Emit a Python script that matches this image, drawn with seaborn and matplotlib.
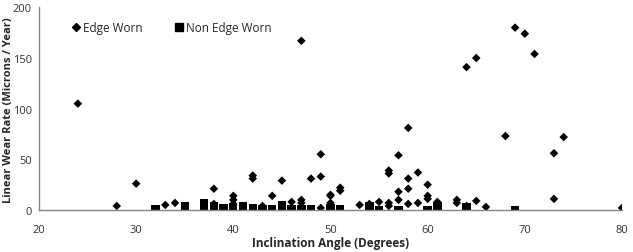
import numpy as np
import pandas as pd
import matplotlib
matplotlib.use("Agg")
import matplotlib.pyplot as plt
import seaborn as sns
from matplotlib.lines import Line2D

# Edge Worn (diamonds)
edge_x = [24, 28, 30, 33, 34, 38, 38, 40, 40, 40, 42, 42, 43, 44, 45, 46,
          47, 47, 47, 48, 49, 49, 49, 50, 50, 50, 50, 51, 51, 53, 54, 55,
          56, 56, 56, 56, 57, 57, 57, 58, 58, 58, 58, 59, 59, 60, 60, 60,
          61, 63, 63, 64, 64, 65, 65, 66, 68, 69, 70, 71, 73, 73, 74, 80]
edge_y = [105, 4, 26, 5, 7, 21, 6, 14, 10, 6, 34, 31, 4, 14, 29, 8,
          167, 10, 7, 31, 55, 33, 2, 15, 14, 7, 4, 22, 19, 5, 6, 8,
          39, 36, 7, 4, 54, 18, 10, 81, 31, 21, 6, 37, 7, 25, 14, 11,
          8, 10, 7, 141, 4, 150, 9, 3, 73, 180, 174, 154, 56, 11, 72, 2]

# Non Edge Worn (squares)
non_x = [32, 35, 35, 37, 37, 37, 38, 38, 39, 40, 40, 41, 41, 42, 43, 44,
         45, 45, 46, 47, 48, 50, 51, 54, 54, 55, 57, 60, 61, 61, 64, 64, 69]
non_y = [1, 1, 4, 1, 4, 7, 1, 4, 2, 1, 3, 1, 4, 2, 1, 1,
         1, 5, 1, 1, 1, 2, 1, 1, 4, 0, 0, 0, 1, 4, 1, 3, 0]

series_names = ["Edge Worn", "Non Edge Worn"]
x_ticks = [20, 30, 40, 50, 60, 70, 80]
y_ticks = [0, 50, 100, 150, 200]

df = pd.DataFrame({
    "angle": edge_x + non_x,
    "rate": edge_y + non_y,
    "type": [series_names[0]] * len(edge_x) + [series_names[1]] * len(non_x),
})

sns.set_style("white")
plt.rcParams["font.family"] = ["Open Sans", "DejaVu Sans"]

fig = plt.figure(figsize=(6.33, 2.53), dpi=100)
ax = fig.add_axes([0.0616, 0.166, 0.921, 0.801])

sns.scatterplot(data=df, x="angle", y="rate", style="type", hue="type",
                palette={series_names[0]: "black", series_names[1]: "black"},
                markers={series_names[0]: "D", series_names[1]: "s"},
                size="type", sizes={series_names[0]: 19, series_names[1]: 36},
                edgecolor="none", linewidth=0, ax=ax, legend=False)

ax.set_xlim(20, 80)
ax.set_ylim(0, 200)
ax.set_xticks(x_ticks)
ax.set_yticks(y_ticks)
ax.set_xticklabels([str(t) for t in x_ticks])
ax.set_yticklabels([str(t) for t in y_ticks])
ax.tick_params(axis="both", labelsize=8, colors="#333333", length=3,
               direction="out", width=0.8)
ax.tick_params(axis="x", color="#868686", pad=7)
ax.tick_params(axis="y", color="#868686", pad=2)

for s in ["top", "right"]:
    ax.spines[s].set_visible(False)
for s in ["left", "bottom"]:
    ax.spines[s].set_color("#868686")
    ax.spines[s].set_linewidth(1.0)

ax.set_xlabel("Inclination Angle (Degrees)", fontsize=8.5, fontweight="bold",
              labelpad=1)
ax.set_ylabel("Linear Wear Rate (Microns / Year)", fontsize=8.0,
              fontweight="bold")
ax.yaxis.set_label_coords(-0.043, 0.5)

handles = [Line2D([], [], marker="D", color="black", linestyle="none",
                  markersize=4.0),
           Line2D([], [], marker="s", color="black", linestyle="none",
                  markersize=5.8)]
ax.legend(handles, series_names, loc="upper left", ncol=2, frameon=False,
          fontsize=8.5, bbox_to_anchor=(0.035, 0.985), handletextpad=0.1,
          columnspacing=2.6, handlelength=1.0)

fig.savefig("out.png", dpi=100)
